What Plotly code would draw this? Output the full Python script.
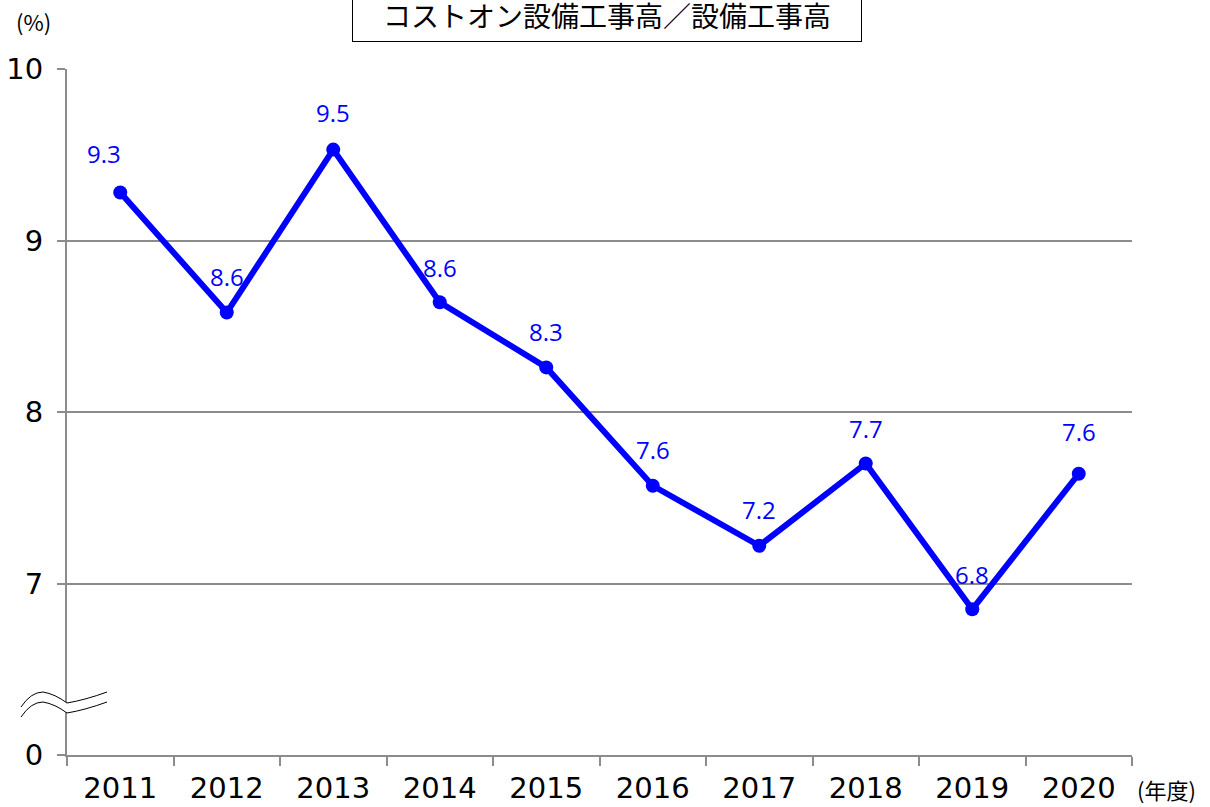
import plotly.graph_objects as go

years = ["2011", "2012", "2013", "2014", "2015", "2016", "2017", "2018", "2019", "2020"]
ratio = [9.28, 8.58, 9.53, 8.64, 8.26, 7.57, 7.22, 7.70, 6.85, 7.64]
labels = ["9.3", "8.6", "9.5", "8.6", "8.3", "7.6", "7.2", "7.7", "6.8", "7.6"]
y_tickvals = [6, 7, 8, 9, 10]
y_ticktext = ["0", "7", "8", "9", "10"]

W, H = 1210, 807
L, R, T, B = 67, 78, 69, 52
pw, ph = W - L - R, H - T - B

def px(x):
    return (x - L) / pw

def py(y):
    return (H - B - y) / ph

AX_FONT = "DejaVu Sans"
JP_FONT = "Noto Sans CJK JP"
blue = "#0000FF"
grey = "#8C8C8C"

fig = go.Figure()
fig.add_trace(go.Scatter(
    x=years, y=ratio, mode="lines+markers",
    line=dict(color=blue, width=6),
    marker=dict(color=blue, size=14),
    hoverinfo="skip", showlegend=False,
))

yshift = [39, 36, 37, 35, 36, 36, 36, 35, 35, 42]
xshift = [-16, 0, 0, 0, 0, 0, 0, 0, 0, 0]
for i, (y, t) in enumerate(zip(ratio, labels)):
    fig.add_annotation(x=i, y=y, text=t, showarrow=False,
                       yshift=yshift[i], xshift=xshift[i],
                       font=dict(family="Open Sans", size=24, color=blue))

# axis break symbol
def wave(dy):
    return (f"M {px(21)},{py(707+dy)} Q {px(31)},{py(692+dy)} {px(43)},{py(692+dy)} "
            f"Q {px(55)},{py(694+dy)} {px(67)},{py(703+dy)} Q {px(85)},{py(700+dy)} {px(107)},{py(692+dy)}")

fill_path = (f"M {px(21)},{py(707)} Q {px(31)},{py(692)} {px(43)},{py(692)} "
             f"Q {px(55)},{py(694)} {px(67)},{py(703)} Q {px(85)},{py(700)} {px(107)},{py(692)} "
             f"L {px(107)},{py(702)} Q {px(85)},{py(710)} {px(67)},{py(713)} "
             f"Q {px(55)},{py(704)} {px(43)},{py(702)} Q {px(31)},{py(702)} {px(21)},{py(717)} Z")
fig.add_shape(type="path", path=fill_path, xref="paper", yref="paper",
              fillcolor="white", line=dict(width=0), layer="above")
for dy in (0, 10):
    fig.add_shape(type="path", path=wave(dy), xref="paper", yref="paper",
                  line=dict(color="black", width=1), layer="above")

# title box
fig.add_annotation(x=px(607), y=py(15), xref="paper", yref="paper",
                   text="コストオン設備工事高／設備工事高", showarrow=False,
                   font=dict(family=JP_FONT, size=28, color="black"),
                   bordercolor="black", borderwidth=1, bgcolor="white",
                   width=496, height=40, borderpad=6, xanchor="center", yanchor="middle")
fig.add_annotation(x=px(33), y=py(21), xref="paper", yref="paper",
                   text="(%)", showarrow=False, xanchor="center", yanchor="middle",
                   font=dict(family=JP_FONT, size=22, color="black"))
fig.add_annotation(x=px(1166), y=py(789), xref="paper", yref="paper",
                   text="(年度)", showarrow=False, xanchor="center", yanchor="middle",
                   font=dict(family=JP_FONT, size=22, color="black"))

fig.update_xaxes(
    type="category", tickson="boundaries", showgrid=False, automargin=False,
    ticks="outside", ticklen=9, tickcolor=grey, tickwidth=2,
    showline=True, linecolor=grey, linewidth=2,
    range=[-0.5, 9.5], ticklabelstandoff=6,
    tickfont=dict(family=AX_FONT, size=29, color="black"),
)
fig.update_yaxes(
    range=[6, 10], tickvals=y_tickvals, ticktext=y_ticktext, automargin=False,
    showgrid=True, gridcolor=grey, gridwidth=2,
    ticks="outside", ticklen=8, tickcolor=grey, tickwidth=2,
    showline=True, linecolor=grey, linewidth=2, zeroline=False,
    ticklabelstandoff=8,
    tickfont=dict(family=AX_FONT, size=29, color="black"),
)
fig.update_layout(
    width=W, height=H,
    margin=dict(l=L, r=R, t=T, b=B),
    plot_bgcolor="white", paper_bgcolor="white",
)
fig.write_html("out.html", config={"displayModeBar": False},
               post_script="document.body.style.margin='0px';")
